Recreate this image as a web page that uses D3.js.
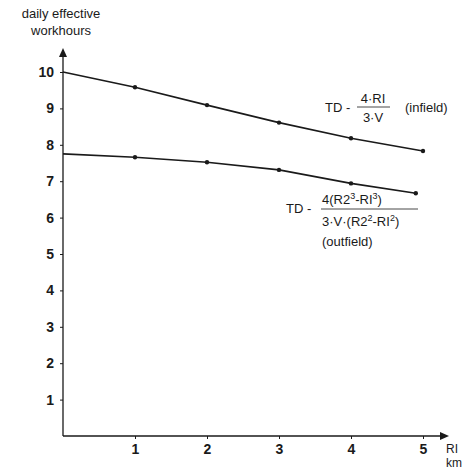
<!DOCTYPE html>
<html>
<head>
<meta charset="utf-8">
<script src="https://cdn.jsdelivr.net/npm/d3@7"></script>
<style>
  body { margin: 0; background: #fff; }
  svg { font-family: "Liberation Sans", Arial, sans-serif; }
</style>
</head>
<body>
<div id="chart"></div>
<script>
var yTicks = [1, 2, 3, 4, 5, 6, 7, 8, 9, 10];
var xTicks = [1, 2, 3, 4, 5];

var infieldX = [0, 1, 2, 3, 4, 5];
var infieldY = [10.0, 9.58, 9.09, 8.61, 8.18, 7.83];

var outfieldX = [0, 1, 2, 3, 4, 4.9];
var outfieldY = [7.75, 7.66, 7.52, 7.31, 6.94, 6.67];

function init() {
    var w = 462;
    var h = 470;
    var ink = "#1a1a1a";

    var svg = d3.select("#chart")
                .append("svg")
                .attr("width", w)
                .attr("height", h);

    var xScale = d3.scaleLinear().domain([0, 5]).range([63, 423]);
    var yScale = d3.scaleLinear().domain([0, 10]).range([436, 72]);

    // axes lines with arrows
    svg.append("line")
       .attr("x1", xScale(0)).attr("y1", yScale(0))
       .attr("x2", xScale(0)).attr("y2", 56)
       .attr("stroke", ink).attr("stroke-width", 1.3);
    svg.append("path")
       .attr("d", "M" + (xScale(0) - 4) + ",57 L" + xScale(0) + ",48 L" + (xScale(0) + 4) + ",57 Z")
       .attr("fill", ink);

    svg.append("line")
       .attr("x1", xScale(0)).attr("y1", yScale(0))
       .attr("x2", 441).attr("y2", yScale(0))
       .attr("stroke", ink).attr("stroke-width", 1.3);
    svg.append("path")
       .attr("d", "M440," + (yScale(0) - 4) + " L449," + yScale(0) + " L440," + (yScale(0) + 4) + " Z")
       .attr("fill", ink);

    // y ticks
    var yAxis = d3.axisLeft(yScale)
                  .tickValues(yTicks)
                  .tickSize(3)
                  .tickPadding(6)
                  .tickFormat(d3.format("d"));
    var gy = svg.append("g")
       .attr("transform", "translate(" + xScale(0) + ",0)")
       .call(yAxis);
    gy.select(".domain").remove();
    gy.selectAll("line").attr("stroke", ink);
    gy.selectAll("text")
      .attr("fill", ink)
      .style("font-size", "14px")
      .style("font-weight", "bold");

    // x ticks
    var xAxis = d3.axisBottom(xScale)
                  .tickValues(xTicks)
                  .tickSize(3)
                  .tickPadding(5)
                  .tickFormat(d3.format("d"));
    var gx = svg.append("g")
       .attr("transform", "translate(0," + yScale(0) + ")")
       .call(xAxis);
    gx.select(".domain").remove();
    gx.selectAll("line").attr("stroke", ink);
    gx.selectAll("text")
      .attr("fill", ink)
      .style("font-size", "14px")
      .style("font-weight", "bold");

    // lines
    var series = [
        { xs: infieldX, ys: infieldY },
        { xs: outfieldX, ys: outfieldY }
    ];
    var line = d3.line()
                 .x(function(d) { return xScale(d[0]); })
                 .y(function(d) { return yScale(d[1]); });

    series.forEach(function(s) {
        var pts = s.xs.map(function(x, i) { return [x, s.ys[i]]; });
        svg.append("path")
           .attr("d", line(pts))
           .attr("fill", "none")
           .attr("stroke", ink)
           .attr("stroke-width", 1.6);
        svg.selectAll(null)
           .data(pts.slice(1))
           .enter()
           .append("circle")
           .attr("cx", function(d) { return xScale(d[0]); })
           .attr("cy", function(d) { return yScale(d[1]); })
           .attr("r", 2.2)
           .attr("fill", ink);
    });

    // axis titles
    var t = svg.append("g").attr("fill", ink).style("font-size", "13px");
    t.append("text").attr("x", 61).attr("y", 18).attr("text-anchor", "middle").text("daily effective");
    t.append("text").attr("x", 61).attr("y", 35).attr("text-anchor", "middle").text("workhours");
    t.append("text").attr("x", 446).attr("y", 453).style("font-size", "12px").text("RI");
    t.append("text").attr("x", 446).attr("y", 467).style("font-size", "12px").text("km");

    // infield formula
    var f1 = svg.append("g").attr("fill", ink).style("font-size", "13px");
    f1.append("text").attr("x", 325).attr("y", 112).text("TD -");
    f1.append("text").attr("x", 373).attr("y", 103).attr("text-anchor", "middle").text("4·RI");
    f1.append("line").attr("x1", 357).attr("x2", 390).attr("y1", 107).attr("y2", 107)
      .attr("stroke", ink).attr("stroke-width", 0.8);
    f1.append("text").attr("x", 373).attr("y", 122).attr("text-anchor", "middle").text("3·V");
    f1.append("text").attr("x", 405).attr("y", 112).text("(infield)");

    // outfield formula
    var f2 = svg.append("g").attr("fill", ink).style("font-size", "13px");
    f2.append("text").attr("x", 286).attr("y", 213).text("TD -");
    var num = f2.append("text").attr("x", 322).attr("y", 204);
    num.append("tspan").text("4(R2");
    num.append("tspan").attr("dy", -5).style("font-size", "9px").text("3");
    num.append("tspan").attr("dy", 5).text("-RI");
    num.append("tspan").attr("dy", -5).style("font-size", "9px").text("3");
    num.append("tspan").attr("dy", 5).text(")");
    f2.append("line").attr("x1", 321).attr("x2", 418).attr("y1", 209).attr("y2", 209)
      .attr("stroke", ink).attr("stroke-width", 0.8);
    var den = f2.append("text").attr("x", 322).attr("y", 226);
    den.append("tspan").text("3·V·(R2");
    den.append("tspan").attr("dy", -5).style("font-size", "9px").text("2");
    den.append("tspan").attr("dy", 5).text("-RI");
    den.append("tspan").attr("dy", -5).style("font-size", "9px").text("2");
    den.append("tspan").attr("dy", 5).text(")");
    f2.append("text").attr("x", 322).attr("y", 246).text("(outfield)");
}

window.onload = init;
</script>
</body>
</html>
